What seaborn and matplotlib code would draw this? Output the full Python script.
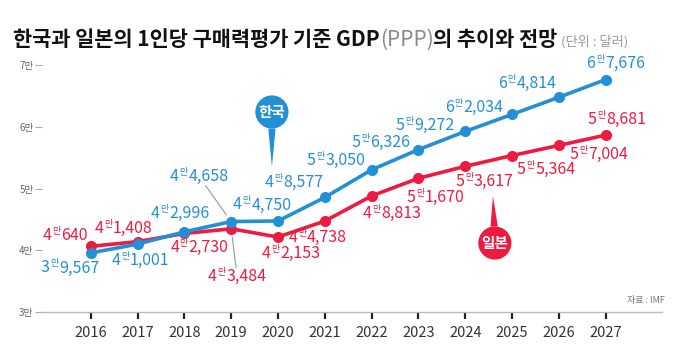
import numpy as np
import pandas as pd
import matplotlib
matplotlib.use("Agg")
import matplotlib.pyplot as plt
import seaborn as sns
from matplotlib.offsetbox import TextArea, HPacker, AnnotationBbox

# ---------------- data ----------------
years = [2016, 2017, 2018, 2019, 2020, 2021, 2022, 2023, 2024, 2025, 2026, 2027]
korea = [39567, 41001, 42996, 44658, 44750, 48577, 53050, 56326, 59272, 62034, 64814, 67676]
japan = [40640, 41408, 42730, 43484, 42153, 44738, 48813, 51670, 53617, 55364, 57004, 58681]
countries = ["한국", "일본"]
yticks = [30000, 40000, 50000, 60000, 70000]
ytick_labels = ["3만", "4만", "5만", "6만", "7만"]
title_main = "한국과 일본의 1인당 구매력평가 기준 GDP"
title_ppp = "(PPP)"
title_tail = "의 추이와 전망"
title_unit = " (단위 : 달러)"
source = "자료 : IMF"

BLUE = "#2390d6"
RED = "#ef1a40"

# label offsets (pixels) relative to each point
korea_off = [(-21, -15), (3, -16), (-4, 18), (-32, 45), (-16, 16), (-31, 15),
             (-36, 9), (-38, 7), (-40, 6), (-38, 7), (-32, 14), (10, 16)]
japan_off = [(-26, 11), (-14, 13), (15, -14), (6, -48), (13, -16), (-7, -16),
             (20, -18), (17, -19), (19, -15), (34, -14), (40, -9), (11, 16)]

sns.set_theme(style="white")
plt.rcParams["font.family"] = ["Noto Sans CJK KR", "DejaVu Sans"]

fig = plt.figure(figsize=(6.75, 3.6), dpi=100)
ax = fig.add_axes([42 / 675, 48 / 360, 620 / 675, 257 / 360])

df = pd.DataFrame({
    "year": years * 2,
    "gdp": korea + japan,
    "country": [countries[0]] * len(years) + [countries[1]] * len(years),
})

sns.lineplot(data=df, x="year", y="gdp", hue="country", hue_order=["일본", "한국"],
             palette={"한국": BLUE, "일본": RED}, marker="o", markersize=8,
             markeredgewidth=0, linewidth=2.6, legend=False, ax=ax)

ax.set_xlim(2014.96, 2028.2)
ax.set_ylim(30000, 71653)
ax.set_xlabel("")
ax.set_ylabel("")
for s in ["top", "right", "left"]:
    ax.spines[s].set_visible(False)
ax.spines["bottom"].set_color("#bbbbbb")
ax.spines["bottom"].set_linewidth(1.0)

ax.set_xticks(years)
ax.set_xticklabels([str(y) for y in years])
ax.tick_params(axis="x", direction="out", length=5, width=1.6, color="#222222",
               labelsize=10.5, labelcolor="#333333", pad=5, bottom=True)
ax.set_yticks(yticks)
ax.set_yticklabels(ytick_labels)
ax.tick_params(axis="y", direction="out", length=5, width=0.8, color="#aaaaaa",
               labelsize=7, labelcolor="#666666", pad=1, left=True)
ax.grid(False)


def add_label(x, y, value, color, off, leader=False):
    big = f"{value // 10000}"
    rest = f"{value % 10000:,}"
    ta1 = TextArea(big, textprops=dict(color=color, fontsize=11.5, fontweight="medium"))
    ta2 = TextArea("만", textprops=dict(color=color, fontsize=6.5))
    ta3 = TextArea(rest, textprops=dict(color=color, fontsize=11.5, fontweight="medium"))
    pack = HPacker(children=[ta1, ta2, ta3], align="top", pad=0, sep=0.5)
    kw = {}
    if leader:
        kw["arrowprops"] = dict(arrowstyle="-", color="#999999", lw=0.8,
                                shrinkA=0, shrinkB=6)
    ab = AnnotationBbox(pack, (x, y), xybox=off, xycoords="data",
                        boxcoords="offset pixels", frameon=False,
                        box_alignment=(0.5, 0.5), pad=0, **kw)
    ab.set_zorder(5)
    ax.add_artist(ab)


for i, (yr, v) in enumerate(zip(years, korea)):
    add_label(yr, v, v, BLUE, korea_off[i], leader=(yr == 2019))
for i, (yr, v) in enumerate(zip(years, japan)):
    add_label(yr, v, v, RED, japan_off[i], leader=(yr == 2019))

# callout bubbles
ax.annotate("한국", xy=(2019.87, 53500), xytext=(2019.87, 62415),
            ha="center", va="center", color="white", fontsize=10.5, fontweight="bold",
            bbox=dict(boxstyle="circle,pad=0.22", fc=BLUE, ec="none"),
            arrowprops=dict(arrowstyle="wedge,tail_width=0.5,shrink_factor=0.5",
                            fc=BLUE, ec="none", shrinkA=0, shrinkB=0))
ax.annotate("일본", xy=(2024.59, 48800), xytext=(2024.63, 41183),
            ha="center", va="center", color="white", fontsize=10.5, fontweight="bold",
            bbox=dict(boxstyle="circle,pad=0.22", fc=RED, ec="none"),
            arrowprops=dict(arrowstyle="wedge,tail_width=0.5,shrink_factor=0.5",
                            fc=RED, ec="none", shrinkA=0, shrinkB=0))

# title
parts = [
    TextArea(title_main, textprops=dict(fontsize=15, fontweight="bold", color="#111111")),
    TextArea(title_ppp, textprops=dict(fontsize=15, fontweight="light", color="#8a8a8a")),
    TextArea(title_tail, textprops=dict(fontsize=15, fontweight="bold", color="#111111")),
    TextArea(title_unit, textprops=dict(fontsize=9.5, fontweight="light", color="#999999")),
]
tpack = HPacker(children=parts, align="baseline", pad=0, sep=0)
tab = AnnotationBbox(tpack, (13, 320), xycoords="figure pixels", frameon=False,
                     box_alignment=(0, 0.5), pad=0)
fig.add_artist(tab)

fig.text(665 / 675, 1 - 300 / 360, source, ha="right", va="center",
         fontsize=6.5, color="#777777")

fig.savefig("out.png", dpi=100)
